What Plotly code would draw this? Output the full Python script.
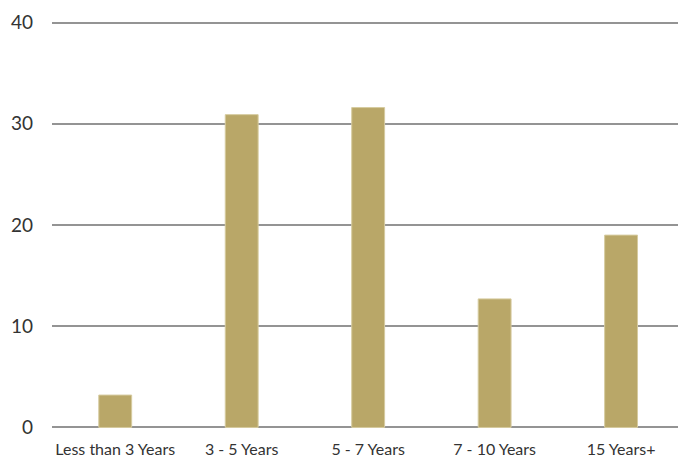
import plotly.graph_objects as go

categories = ["Less than 3 Years", "3 - 5 Years", "5 - 7 Years", "7 - 10 Years", "15 Years+"]
values = [3.2, 30.9, 31.6, 12.7, 19.0]
y_ticks = [0, 10, 20, 30, 40]

fig = go.Figure()
fig.add_trace(go.Bar(
    x=categories,
    y=values,
    width=0.26,
    marker=dict(color="#B9A768", line=dict(color="#D6CB9F", width=1)),
    hoverinfo="x+y",
))

fig.update_layout(
    width=678,
    height=459,
    margin=dict(l=52, r=0, t=20, b=29),
    paper_bgcolor="white",
    plot_bgcolor="white",
    showlegend=False,
    font=dict(family="Lato, 'Open Sans', sans-serif", color="#333333"),
    xaxis=dict(
        range=[-0.5, 4.45],
        showgrid=False,
        zeroline=False,
        showline=False,
        ticks="",
        automargin=False,
        tickfont=dict(size=16, color="#333333"),
        ticklabelstandoff=8,
    ),
    yaxis=dict(
        range=[-0.25, 40.25],
        tickvals=y_ticks,
        showgrid=True,
        gridcolor="#949494",
        gridwidth=2,
        zeroline=False,
        showline=False,
        ticks="",
        automargin=False,
        tickfont=dict(size=19, color="#333333"),
        ticklabelstandoff=18,
    ),
)

fig.write_html("out.html")
